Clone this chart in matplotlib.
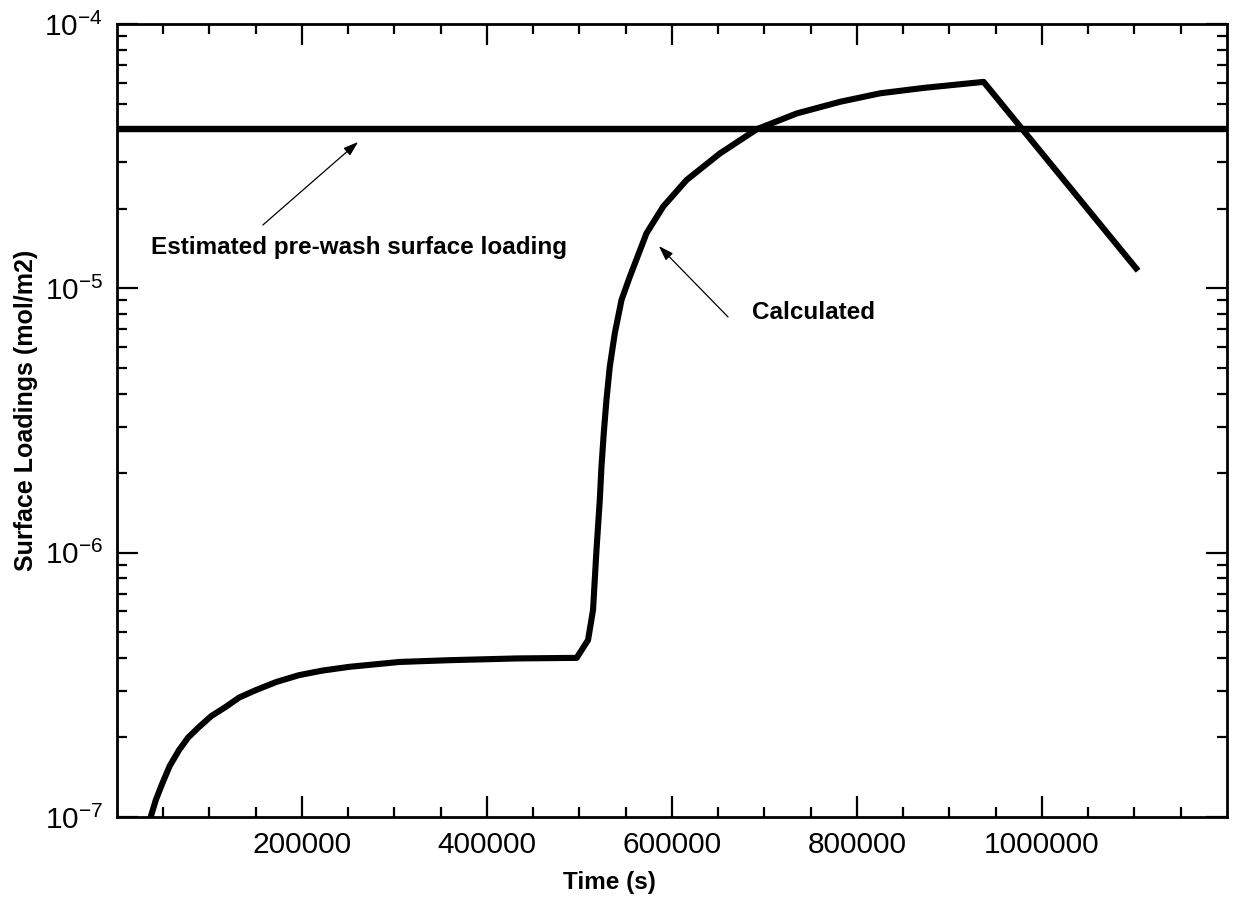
import matplotlib

matplotlib.use("Agg")
import matplotlib.pyplot as plt
from matplotlib.ticker import (FixedLocator, LogLocator, LogFormatterMathtext,
                               NullFormatter, StrMethodFormatter)

# calculated surface loading vs time
time_s = [36400, 42000, 49000, 57000, 67000, 77000, 88700, 102000, 117600,
          132000, 150100, 172000, 196700, 222000, 251300, 305500, 359700,
          432000, 497000, 509300, 514700, 518400, 522000, 523800, 526300,
          529200, 532800, 538200, 545500, 554500, 572500, 590600, 615900,
          652000, 691800, 735100, 782000, 825400, 872000, 937000, 1101900]
loading = [1.0e-7, 1.16e-7, 1.34e-7, 1.56e-7, 1.79e-7, 2.0e-7, 2.19e-7,
           2.41e-7, 2.61e-7, 2.83e-7, 3.02e-7, 3.24e-7, 3.44e-7, 3.58e-7,
           3.70e-7, 3.86e-7, 3.92e-7, 3.98e-7, 4.0e-7, 4.67e-7, 6.07e-7,
           1.02e-6, 1.58e-6, 2.11e-6, 2.83e-6, 3.78e-6, 5.05e-6, 6.75e-6,
           9.04e-6, 1.107e-5, 1.615e-5, 2.04e-5, 2.57e-5, 3.24e-5, 4.0e-5,
           4.59e-5, 5.08e-5, 5.47e-5, 5.73e-5, 6.04e-5, 1.19e-5]
prewash = 4.0e-5
x_ticks = [200000, 400000, 600000, 800000, 1000000]

plt.rcParams["font.family"] = ["Liberation Sans", "DejaVu Sans"]
plt.rcParams["mathtext.fontset"] = "custom"
plt.rcParams["mathtext.rm"] = "Liberation Sans"
plt.rcParams["mathtext.it"] = "Liberation Sans:italic"

fig = plt.figure(figsize=(12.38, 8.99), dpi=100)
ax = fig.add_axes([0.0945, 0.0912, 0.8965, 0.8821])

ax.axhline(prewash, color="black", lw=4.6, solid_capstyle="butt")
ax.plot(time_s, loading, color="black", lw=4.4, solid_joinstyle="round")

ax.set_yscale("log")
ax.set_xlim(0, 1.2e6)
ax.set_ylim(1e-7, 1e-4)

ax.xaxis.set_major_locator(FixedLocator(x_ticks))
ax.xaxis.set_major_formatter(StrMethodFormatter("{x:.0f}"))
ax.xaxis.set_minor_locator(FixedLocator(range(50000, 1200000, 50000)))
ax.yaxis.set_major_locator(LogLocator(base=10))
ax.yaxis.set_major_formatter(LogFormatterMathtext())
ax.yaxis.set_minor_locator(LogLocator(base=10, subs=range(2, 10)))
ax.yaxis.set_minor_formatter(NullFormatter())

ax.tick_params(which="both", direction="in", top=True, right=True, width=1.6)
ax.tick_params(which="major", length=15, labelsize=21.5, pad=10)
ax.tick_params(which="minor", length=7)
for s in ax.spines.values():
    s.set_linewidth(2.0)

ax.set_xlabel("Time (s)", fontsize=17.5, fontweight="bold")
ax.xaxis.set_label_coords(0.444, -0.068)
ax.set_ylabel("Surface Loadings (mol/m2)", fontsize=18, fontweight="bold")
ax.yaxis.set_label_coords(-0.071, 0.513)

arrow = dict(arrowstyle="-|>,head_length=0.9,head_width=0.3", color="black",
             lw=0.9, shrinkA=0, shrinkB=0)
ax.annotate("", xy=(260700, 3.58e-5), xytext=(157700, 1.736e-5),
            arrowprops=arrow)
ax.text(36300, 1.433e-5, "Estimated pre-wash surface loading", fontsize=17.5,
        fontweight="bold", va="center", ha="left")
ax.annotate("", xy=(585900, 1.445e-5), xytext=(660700, 7.79e-6),
            arrowprops=arrow)
ax.text(686700, 8.13e-6, "Calculated", fontsize=17.5, fontweight="bold",
        va="center", ha="left")

fig.savefig("out.png", dpi=100)
